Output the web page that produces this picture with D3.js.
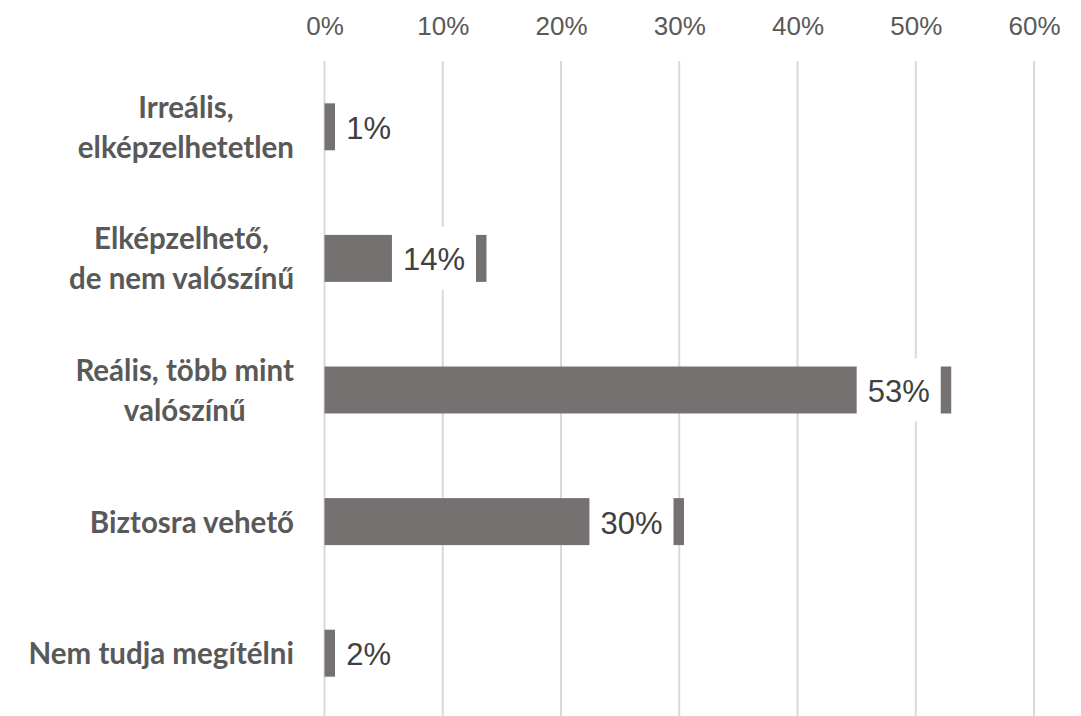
<!DOCTYPE html>
<html>
<head>
<meta charset="utf-8">
<script src="https://cdn.jsdelivr.net/npm/d3@7"></script>
<style>
  html, body { margin: 0; padding: 0; background: #ffffff; }
  svg { display: block; }
</style>
</head>
<body>
<svg id="chart" width="1081" height="716"></svg>
<script>
// ---- data ----
const categories = [
  ["Irreális,", "elképzelhetetlen"],
  ["Elképzelhető,", "de nem valószínű"],
  ["Reális, több mint", "valószínű"],
  ["Biztosra vehető"],
  ["Nem tudja megítélni"]
];
const values = [0.9, 13.7, 53.0, 30.4, 0.9];
const valueLabels = ["1%", "14%", "53%", "30%", "2%"];
const tickValues = [0, 10, 20, 30, 40, 50, 60];
const tickLabels = ["0%", "10%", "20%", "30%", "40%", "50%", "60%"];

// ---- layout ----
const W = 1081, H = 716;
const svg = d3.select("#chart");
const plotTop = 61, plotBottom = 719;
const x = d3.scaleLinear().domain([0, 60]).range([324.5, 1034]);
const y = d3.scaleBand().domain(d3.range(categories.length)).range([plotTop, plotBottom])
  .paddingInner(0.643).paddingOuter(0.3215);

// gridlines
svg.append("g").selectAll("line").data(tickValues).join("line")
  .attr("x1", d => x(d)).attr("x2", d => x(d))
  .attr("y1", plotTop).attr("y2", H)
  .attr("stroke", "#d9d9d9").attr("stroke-width", 2);

// tick labels (top)
const axis = d3.axisTop(x).tickValues(tickValues)
  .tickFormat((d, i) => tickLabels[i]).tickSize(0).tickPadding(0);
const ag = svg.append("g").attr("transform", "translate(0,35)").call(axis);
ag.select(".domain").remove();
ag.selectAll("text")
  .attr("dy", 0)
  .attr("y", 0)
  .style("font-family", "'Liberation Sans', Arial, sans-serif")
  .style("font-size", "26px")
  .attr("fill", "#595959");

// bars
svg.append("g").selectAll("rect").data(values).join("rect")
  .attr("x", x(0))
  .attr("y", (d, i) => y(i))
  .attr("width", d => x(d) - x(0))
  .attr("height", y.bandwidth())
  .attr("fill", "#767171");

// data labels with white boxes
const lg = svg.append("g");
values.forEach((v, i) => {
  const cy = y(i) + y.bandwidth() / 2;
  const g = lg.append("g");
  const box = g.append("rect").attr("fill", "#ffffff");
  const t = g.append("text")
    .text(valueLabels[i])
    .attr("text-anchor", "middle")
    .style("font-family", "'Liberation Sans', Arial, sans-serif")
    .style("font-size", "31px")
    .attr("fill", "#404040");
  const tw = t.node().getComputedTextLength();
  const bw = tw + 22, bh = 63;
  const end = x(v);
  let bx;
  if (end - x(0) > bw + 20) bx = end - 10.5 - bw; else bx = end;
  box.attr("x", bx).attr("y", cy - bh / 2).attr("width", bw).attr("height", bh);
  t.attr("x", bx + bw / 2).attr("y", cy + 12);
});

// category labels
const cg = svg.append("g");
const rightEdge = 294;
categories.forEach((lines, i) => {
  const cy = y(i) + y.bandwidth() / 2;
  const t = cg.append("text")
    .style("font-family", "Lato, 'Open Sans', sans-serif")
    .style("font-weight", "bold")
    .style("font-size", "29.5px")
    .attr("fill", "#595959")
    .attr("text-anchor", "middle");
  const spans = lines.map((ln, k) => t.append("tspan").text(ln));
  const widths = spans.map(s => s.node().getComputedTextLength());
  const maxW = d3.max(widths);
  const cx = rightEdge - maxW / 2;
  const baseY = lines.length === 1 ? cy + 11 : cy - 9;
  spans.forEach((s, k) => s.attr("x", cx).attr("y", baseY + k * 40));
});
</script>
</body>
</html>
